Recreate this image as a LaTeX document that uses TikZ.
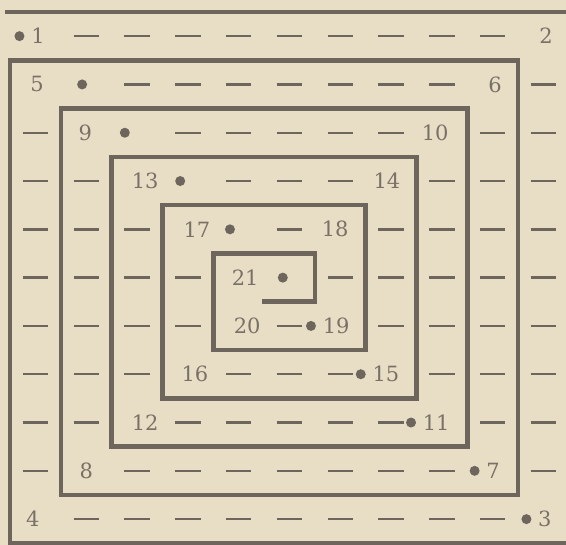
\documentclass[tikz,border=0pt]{standalone}
\usepackage{fontspec}
\setmainfont{DejaVu Serif}
\usetikzlibrary{positioning}
\definecolor{paper}{HTML}{E8DEC6}
\definecolor{ink}{HTML}{6E665D}
\definecolor{inklight}{HTML}{7A7166}

\begin{document}
\begin{tikzpicture}[x=25.4pt, y=24.15pt,
            wall/.style={draw=ink, line width=2.3pt, line cap=rect, line join=miter},
            trail/.style={draw=ink, line width=1.2pt},
            num/.style={text=inklight, inner sep=1pt, font=\fontsize{10.5}{12}\selectfont},
            dot/.style={circle, fill=ink, minimum size=5pt, inner sep=0pt}]
            \useasboundingbox (-0.197,0.248) rectangle (10.945,-11.035);
            \fill[paper] (-0.197,0.248) rectangle (10.945,-11.035);
            % Walls
            \draw[wall] (-0.06,0) -- (10.945,0);
            \draw[wall] (10.945,-11) -- (0,-11) -- (0,-1) -- (10,-1) -- (10,-10) -- (1,-10) -- (1,-2)
                -- (9,-2) -- (9,-9) -- (2,-9) -- (2,-3) -- (8,-3) -- (8,-8) -- (3,-8) -- (3,-4)
                -- (7,-4) -- (7,-7) -- (4,-7) -- (4,-5) -- (6,-5) -- (6,-6) -- (5,-6);
            % Dashes: top row, bottom row and right column of each ring
            \foreach \k [evaluate=\k as \a using int(\k+1), evaluate=\k as \b using int(9-\k),
                         evaluate=\k as \lo using int(10-\k)] in {0,...,4} {
                \foreach \c in {\a,...,\b} {
                    \draw[trail] (\c+0.25,-\k-0.5) -- ++(0.5,0);
                    \draw[trail] (\c+0.25,-\lo-0.5) -- ++(0.5,0);
                    \draw[trail] (\lo+0.25,-\c-0.5) -- ++(0.5,0);
                }
            }
            % Dashes: left column
            \foreach \k [evaluate=\k as \a using int(\k+2), evaluate=\k as \b using int(9-\k)] in {0,...,3} {
                \foreach \r in {\a,...,\b} {
                    \draw[trail] (\k+0.25,-\r-0.5) -- ++(0.5,0);
                }
            }
            % Numbers
            \node[num] (n1) at (0.55,-0.5) {1};
            \node[num] (n2) at (10.55,-0.5) {2};
            \node[num] (n3) at (10.53,-10.5) {3};
            \node[num] (n4) at (0.45,-10.5) {4};
            \node[num] (n5) at (0.53,-1.5) {5};
            \node[num] (n6) at (9.55,-1.5) {6};
            \node[num] (n7) at (9.51,-9.5) {7};
            \node[num] (n8) at (1.5,-9.5) {8};
            \node[num] (n9) at (1.48,-2.5) {9};
            \node[num] (n10) at (8.37,-2.5) {10};
            \node[num] (n11) at (8.39,-8.5) {11};
            \node[num] (n12) at (2.66,-8.5) {12};
            \node[num] (n13) at (2.66,-3.5) {13};
            \node[num] (n14) at (7.42,-3.5) {14};
            \node[num] (n15) at (7.40,-7.5) {15};
            \node[num] (n16) at (3.64,-7.5) {16};
            \node[num] (n17) at (3.68,-4.5) {17};
            \node[num] (n18) at (6.40,-4.5) {18};
            \node[num] (n19) at (6.42,-6.5) {19};
            \node[num] (n20) at (4.67,-6.5) {20};
            \node[num] (n21) at (4.63,-5.5) {21};
            % Dots
            \node[dot, left=2pt of n1] (d1) {};
            \node[dot, left=2pt of n3] (d3) {};
            \node[dot, left=2pt of n7] (d7) {};
            \node[dot, left=2pt of n11] (d11) {};
            \node[dot, left=2pt of n15] (d15) {};
            \node[dot, left=2pt of n19] (d19) {};
            \node[dot] (d5) at (1.42,-1.5) {};
            \node[dot] (d9) at (2.26,-2.5) {};
            \node[dot] (d13) at (3.35,-3.5) {};
            \node[dot] (d17) at (4.33,-4.5) {};
            \node[dot] (d21) at (5.37,-5.5) {};
        \end{tikzpicture}
\end{document}
